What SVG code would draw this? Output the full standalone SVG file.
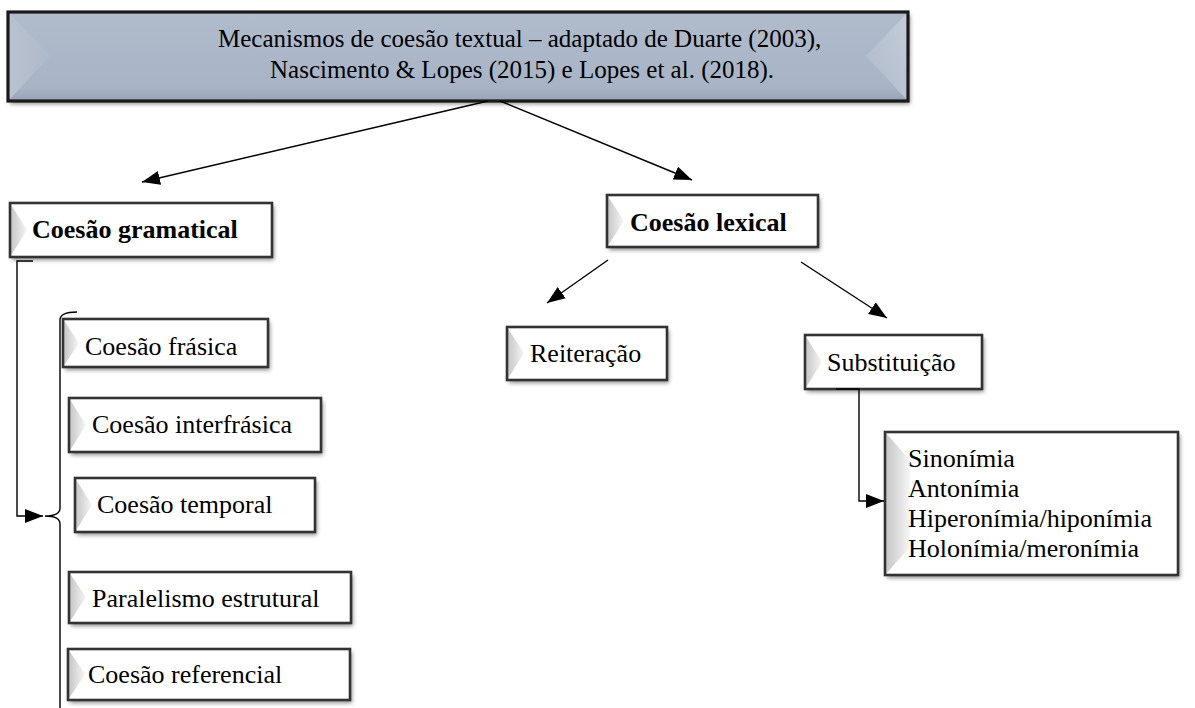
<svg xmlns="http://www.w3.org/2000/svg" width="1195" height="708" viewBox="0 0 1195 708">
<style>
  .t { font-family: "Liberation Serif", "Times New Roman", serif; font-size: 26px; fill: #000; }
  .tt { font-size: 25px; }
  .b { font-weight: bold; }
  .box { fill: #fff; filter: url(#sh); }
  .edge { fill: none; stroke: #333; stroke-width: 2.6; }
  .bev { fill: url(#gl); }
  .con { fill: none; stroke: #000; stroke-width: 1.4; }
</style>
<defs>
  <filter id="sh" x="-5%" y="-10%" width="115%" height="130%">
    <feDropShadow dx="2" dy="3" stdDeviation="2" flood-color="#000" flood-opacity="0.45"/>
  </filter>
  <linearGradient id="gl" x1="0" y1="0" x2="1" y2="0">
    <stop offset="0" stop-color="#c4c4c4"/>
    <stop offset="1" stop-color="#f6f6f6"/>
  </linearGradient>
  <linearGradient id="topfill" x1="0" y1="0" x2="0" y2="1">
    <stop offset="0" stop-color="#b0bbcc"/>
    <stop offset="0.85" stop-color="#a8b4c5"/>
    <stop offset="1" stop-color="#98a4b6"/>
  </linearGradient>
  <linearGradient id="topl" x1="0" y1="0" x2="1" y2="0">
    <stop offset="0" stop-color="#b9c2cf"/>
    <stop offset="1" stop-color="#aeb9ca"/>
  </linearGradient>
  <linearGradient id="topr" x1="1" y1="0" x2="0" y2="1">
    <stop offset="0" stop-color="#c5cdd9"/>
    <stop offset="1" stop-color="#adb8c9"/>
  </linearGradient>
  <marker id="ah" markerUnits="userSpaceOnUse" markerWidth="20" markerHeight="16" refX="18" refY="7" orient="auto">
    <path d="M0,0 L18,7 L0,14 z" fill="#000"/>
  </marker>
</defs>

<g id="title">
  <rect x="8" y="12" width="900" height="89" fill="url(#topfill)" filter="url(#sh)"/>
  <polygon points="8,12 50,56 8,101" fill="url(#topl)"/>
  <polygon points="908,12 866,56 908,101" fill="url(#topr)"/>
  <rect x="8" y="12" width="900" height="89" fill="none" stroke="#1a1a1a" stroke-width="3.2"/>
  <text class="t tt" x="218" y="47">Mecanismos de coesão textual – adaptado de Duarte (2003),</text>
  <text class="t tt" x="270" y="78">Nascimento &amp; Lopes (2015) e Lopes et al. (2018).</text>
</g>

<g id="gramatical">
  <rect class="box" x="10" y="203" width="262" height="54"/>
  <polygon class="bev" points="10,203 27,230 10,257"/>
  <rect class="edge" x="10" y="203" width="262" height="54"/>
  <text class="t b" x="32" y="238">Coesão gramatical</text>
</g>

<g id="lexical">
  <rect class="box" x="607" y="195" width="211" height="52"/>
  <polygon class="bev" points="607,195 624,221 607,247"/>
  <rect class="edge" x="607" y="195" width="211" height="52"/>
  <text class="t b" x="630" y="231">Coesão lexical</text>
</g>

<g id="frasica">
  <rect class="box" x="63" y="319" width="205" height="48"/>
  <polygon class="bev" points="63,319 79,343 63,367"/>
  <rect class="edge" x="63" y="319" width="205" height="48"/>
  <text class="t" x="85" y="355">Coesão frásica</text>
</g>

<g id="interfrasica">
  <rect class="box" x="69" y="398" width="252" height="54"/>
  <polygon class="bev" points="69,398 86,425 69,452"/>
  <rect class="edge" x="69" y="398" width="252" height="54"/>
  <text class="t" x="92" y="433">Coesão interfrásica</text>
</g>

<g id="temporal">
  <rect class="box" x="75" y="478" width="240" height="54"/>
  <polygon class="bev" points="75,478 92,505 75,532"/>
  <rect class="edge" x="75" y="478" width="240" height="54"/>
  <text class="t" x="97" y="513">Coesão temporal</text>
</g>

<g id="paralelismo">
  <rect class="box" x="69" y="572" width="282" height="51"/>
  <polygon class="bev" points="69,572 86,597 69,623"/>
  <rect class="edge" x="69" y="572" width="282" height="51"/>
  <text class="t" x="92" y="607">Paralelismo estrutural</text>
</g>

<g id="referencial">
  <rect class="box" x="68" y="649" width="282" height="51"/>
  <polygon class="bev" points="68,649 85,674 68,700"/>
  <rect class="edge" x="68" y="649" width="282" height="51"/>
  <text class="t" x="88" y="683">Coesão referencial</text>
</g>

<g id="reiteracao">
  <rect class="box" x="507" y="327" width="160" height="53"/>
  <polygon class="bev" points="507,327 524,353 507,380"/>
  <rect class="edge" x="507" y="327" width="160" height="53"/>
  <text class="t" x="530" y="362">Reiteração</text>
</g>

<g id="substituicao">
  <rect class="box" x="805" y="335" width="177" height="54"/>
  <polygon class="bev" points="805,335 822,362 805,389"/>
  <rect class="edge" x="805" y="335" width="177" height="54"/>
  <text class="t" x="827" y="371">Substituição</text>
</g>

<g id="tipos">
  <rect class="box" x="885" y="432" width="293" height="143"/>
  <polygon class="bev" points="885,432 910,460 910,547 885,575"/>
  <rect class="edge" x="885" y="432" width="293" height="143"/>
  <text class="t" x="908" y="467">Sinonímia</text>
  <text class="t" x="908" y="497">Antonímia</text>
  <text class="t" x="908" y="527">Hiperonímia/hiponímia</text>
  <text class="t" x="908" y="557">Holonímia/meronímia</text>
</g>

<g id="connectors">
  <line class="con" x1="488" y1="101" x2="142" y2="182" marker-end="url(#ah)"/>
  <line class="con" x1="500" y1="101" x2="692" y2="180" marker-end="url(#ah)"/>
  <line class="con" x1="608" y1="260" x2="547" y2="303" marker-end="url(#ah)"/>
  <line class="con" x1="801" y1="262" x2="887" y2="318" marker-end="url(#ah)"/>
  <polyline class="con" points="33,261 17,261 17,516 43,516" marker-end="url(#ah)"/>
  <path class="con" d="M77,312 Q60,312 60,320 L60,508 Q60,516 45,516 Q60,516 60,524 L60,712 Q60,720 77,720"/>
  <polyline class="con" points="836,389 859,389 859,501 884,501" marker-end="url(#ah)"/>
</g>
</svg>
